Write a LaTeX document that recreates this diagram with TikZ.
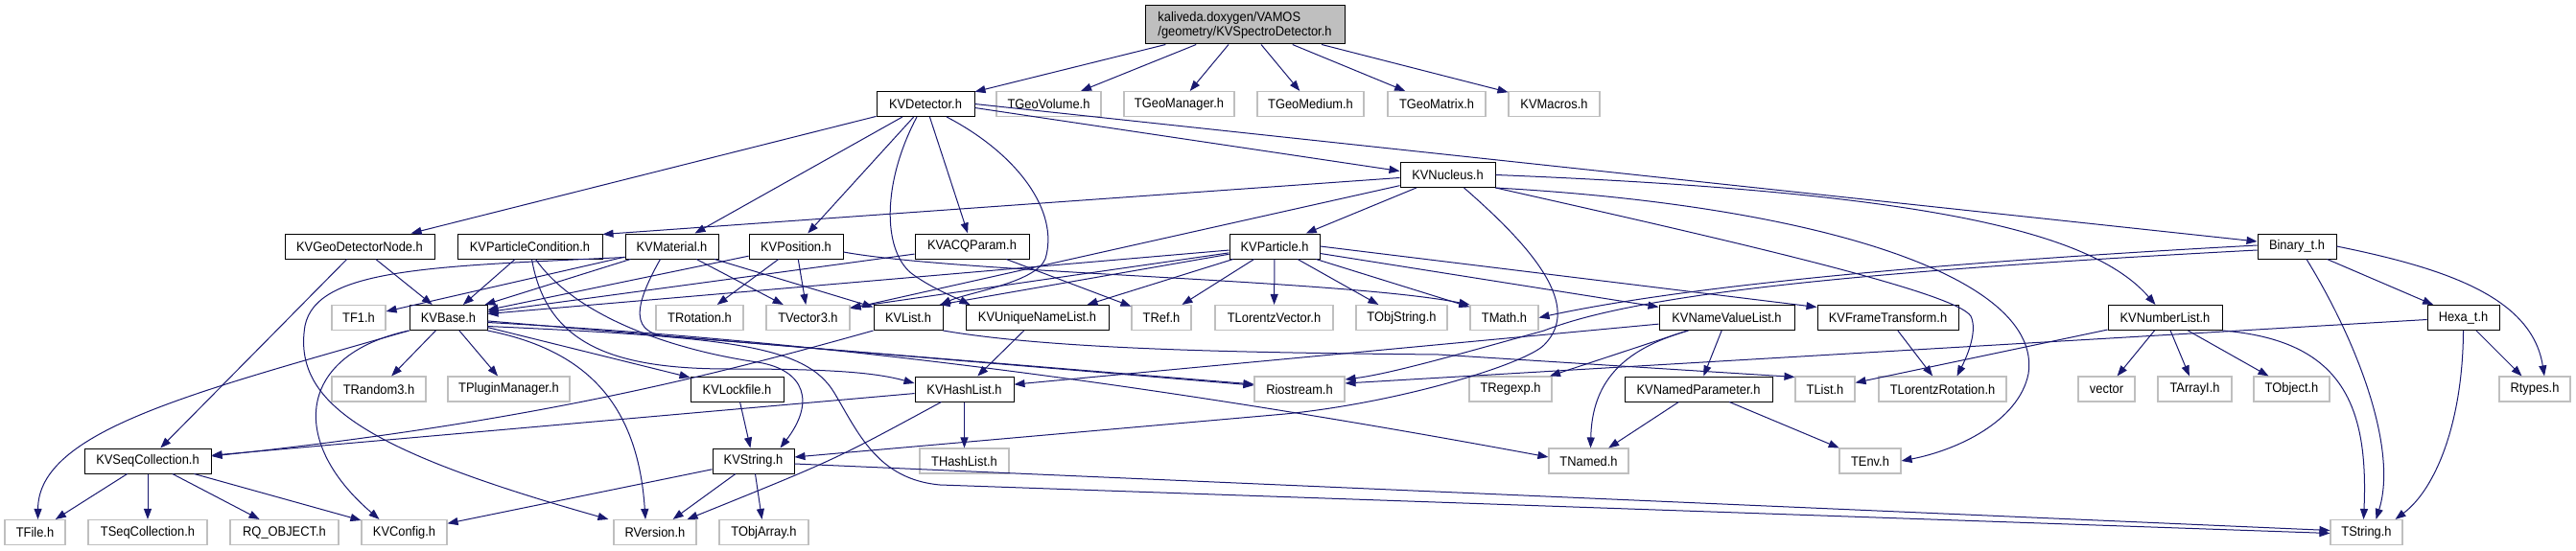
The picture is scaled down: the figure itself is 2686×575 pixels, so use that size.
\documentclass[tikz,border=0pt]{standalone}
\usepackage{fontspec}
\setmainfont{Liberation Sans}[FakeStretch=0.92]
\usetikzlibrary{arrows.meta,calc}
\definecolor{edgeblue}{RGB}{25,25,112}
\definecolor{greyseventyfive}{RGB}{191,191,191}
\begin{document}
\begin{tikzpicture}[x=1pt,y=-1pt,
  font=\fontsize{14}{15}\selectfont,
  kv/.style={draw=black,line width=1pt,rectangle,minimum height=26pt,inner sep=0pt,fill=white,text=black},
  ext/.style={draw=greyseventyfive,line width=1.1pt,rectangle,minimum height=26pt,inner sep=0pt,fill=white,text=black},
  rootbox/.style={draw=black,line width=1pt,rectangle,minimum height=40pt,inner sep=0pt,fill=greyseventyfive,text=black,align=left},
  e/.style={draw=edgeblue,line width=1pt,-{Triangle[length=11pt,width=8pt]}}]
\fill[white] (0,0) rectangle (2686,575);
\useasboundingbox (0,0) rectangle (2686,575);
% row 0
\node[rootbox,minimum width=208pt] (root) at (1298,26) {kaliveda.doxygen/VAMOS\\/geometry/KVSpectroDetector.h};
% row 1
\node[kv,minimum width=102pt] (Det) at (965,108.5) {KVDetector.h};
\node[ext,minimum width=109pt] (TGV) at (1093.5,108.5) {TGeoVolume.h};
\node[ext,minimum width=115pt] (TGM) at (1229.5,108.5) {TGeoManager.h};
\node[ext,minimum width=111pt] (TGMed) at (1366.5,108.5) {TGeoMedium.h};
\node[ext,minimum width=102pt] (TGMat) at (1498,108.5) {TGeoMatrix.h};
\node[ext,minimum width=95pt] (KVMac) at (1620.5,108.5) {KVMacros.h};
% row 2
\node[kv,minimum width=99pt] (Nuc) at (1509.5,182.5) {KVNucleus.h};
% row 3
\node[kv,minimum width=156pt] (GeoNode) at (375,257) {KVGeoDetectorNode.h};
\node[kv,minimum width=151pt] (PartCond) at (552.5,257) {KVParticleCondition.h};
\node[kv,minimum width=97pt] (Mat) at (700.5,257) {KVMaterial.h};
\node[kv,minimum width=98pt] (Pos) at (830,257) {KVPosition.h};
\node[kv,minimum width=119pt] (ACQ) at (1013.5,257) {KVACQParam.h};
\node[kv,minimum width=94pt] (Part) at (1329,257) {KVParticle.h};
\node[kv,minimum width=82pt] (Bin) at (2395,257) {Binary\_t.h};
% row 4
\node[ext,minimum width=56pt] (TF1) at (374,331.5) {TF1.h};
\node[kv,minimum width=81pt] (Base) at (467.5,331.5) {KVBase.h};
\node[ext,minimum width=91pt] (TRot) at (729.5,331.5) {TRotation.h};
\node[ext,minimum width=87pt] (TV3) at (842.5,331.5) {TVector3.h};
\node[kv,minimum width=72pt] (List) at (947,331.5) {KVList.h};
\node[kv,minimum width=149pt] (UNL) at (1081.5,331.5) {KVUniqueNameList.h};
\node[ext,minimum width=62pt] (TRef) at (1211,331.5) {TRef.h};
\node[ext,minimum width=123pt] (TLV) at (1328.5,331.5) {TLorentzVector.h};
\node[ext,minimum width=95pt] (TOS) at (1461.5,331.5) {TObjString.h};
\node[ext,minimum width=71pt] (TMath) at (1568.5,331.5) {TMath.h};
\node[kv,minimum width=141pt] (NVL) at (1800.5,331.5) {KVNameValueList.h};
\node[kv,minimum width=147pt] (FT) at (1968.5,331.5) {KVFrameTransform.h};
\node[kv,minimum width=119pt] (NumL) at (2257.5,331.5) {KVNumberList.h};
\node[kv,minimum width=75pt] (Hexa) at (2568.5,331.5) {Hexa\_t.h};
% row 5
\node[ext,minimum width=98pt] (TRnd) at (395,406) {TRandom3.h};
\node[ext,minimum width=127pt] (TPM) at (530.5,406) {TPluginManager.h};
\node[kv,minimum width=97pt] (Lock) at (768.5,406) {KVLockfile.h};
\node[kv,minimum width=103pt] (HashL) at (1005.5,406) {KVHashList.h};
\node[ext,minimum width=94pt] (Rio) at (1355,406) {Riostream.h};
\node[ext,minimum width=86pt] (TRegexp) at (1575,406) {TRegexp.h};
\node[kv,minimum width=154pt] (NamedP) at (1771,406) {KVNamedParameter.h};
\node[ext,minimum width=62pt] (TList) at (1903,406) {TList.h};
\node[ext,minimum width=133pt] (TLR) at (2025.5,406) {TLorentzRotation.h};
\node[ext,minimum width=59pt] (vec) at (2196.5,406) {vector};
\node[ext,minimum width=77pt] (TArrI) at (2288.5,406) {TArrayI.h};
\node[ext,minimum width=79pt] (TObj) at (2389.5,406) {TObject.h};
\node[ext,minimum width=74pt] (Rtypes) at (2643,406) {Rtypes.h};
% row 6
\node[kv,minimum width=132pt] (Seq) at (154,481) {KVSeqCollection.h};
\node[kv,minimum width=85pt] (Str) at (785.5,481) {KVString.h};
\node[ext,minimum width=93pt] (THash) at (1005.5,481) {THashList.h};
\node[ext,minimum width=83pt] (TNamed) at (1656.5,481) {TNamed.h};
\node[ext,minimum width=64pt] (TEnv) at (1950,481) {TEnv.h};
% row 7
\node[ext,minimum width=63pt] (TFile) at (36.5,555.5) {TFile.h};
\node[ext,minimum width=124pt] (TSeq) at (154,555.5) {TSeqCollection.h};
\node[ext,minimum width=113pt] (RQ) at (296.5,555.5) {RQ\_OBJECT.h};
\node[ext,minimum width=89pt] (Cfg) at (421.5,555.5) {KVConfig.h};
\node[ext,minimum width=86pt] (RVer) at (683,555.5) {RVersion.h};
\node[ext,minimum width=93pt] (TObjArr) at (796.5,555.5) {TObjArray.h};
\node[ext,minimum width=75pt] (TStr) at (2467.5,555.5) {TString.h};

% ---- edges ----
% root
\draw[e] (root) -- (Det);
\draw[e] (root) -- (TGV);
\draw[e] (root) -- (TGM);
\draw[e] (root) -- (TGMed);
\draw[e] (root) -- (TGMat);
\draw[e] (root) -- (KVMac);
% KVDetector
\draw[e] (Det) -- (GeoNode);
\draw[e] (Det) -- (Mat);
\draw[e] (Det) -- (Pos);
\draw[e] (Det) -- (ACQ);
\draw[e] ($(Det.south)+(-9,0)$) .. controls (920,190) and (920,260) .. (950,285) .. controls (970,300) and (995,310) .. ($(UNL.north west)+(5,0)$);
\draw[e] ($(Det.south)+(22,0)$) .. controls (1060,160) and (1105,220) .. (1090,270) .. controls (1080,295) and (1010,305) .. ($(List.north east)+(-3,0)$);
\draw[e] ($(Det.east)+(0,4)$) -- ($(Nuc.west)+(0,-4)$);
\draw[e] (Det.east) -- ($(Bin.west)+(0,-5)$);
% KVNucleus
\draw[e] ($(Nuc.west)+(0,3)$) -- ($(PartCond.north east)+(0,1)$);
\draw[e] (Nuc) -- ($(TV3.north east)+(0,4)$);
\draw[e] (Nuc) -- (Part);
\draw[e] ($(Nuc.south)+(17,0)$) .. controls (1600,260) and (1650,320) .. (1610,360) .. controls (1590,380) and (1460,420) .. (1340,432) -- ($(Str.east)+(0,-4)$);
\draw[e] (Nuc.east) .. controls (2000,200) and (2180,240) .. ($(NumL.north)+(-10,0)$);
\draw[e] (Nuc.south east) .. controls (1900,215) and (2130,290) .. (2115,390) .. controls (2105,440) and (2040,470) .. (TEnv.east);
\draw[e] (Nuc.south east) .. controls (1800,250) and (2040,305) .. (2055,330) .. controls (2062,345) and (2052,370) .. ($(TLR.north)+(15,0)$);
% KVGeoDetectorNode
\draw[e] (GeoNode) -- (Base);
\draw[e] (GeoNode) -- (Seq);
% KVParticleCondition
\draw[e] (PartCond) -- (Base);
\draw[e] ($(PartCond.south)+(6,0)$) .. controls (600,330) and (700,365) .. (790,378) .. controls (840,386) and (850,420) .. ($(Str.north east)+(-15,0)$);
\draw[e] ($(PartCond.south)+(2,0)$) .. controls (570,360) and (640,385) .. (760,385) .. controls (860,385) and (910,388) .. ($(HashL.west)+(0,-6)$);
% KVMaterial
\draw[e] (Mat) -- (TF1);
\draw[e] (Mat) -- ($(Base.north east)+(-3,0)$);
\draw[e] (Mat) -- (TV3);
\draw[e] (Mat) -- (List);
\draw[e] ($(Mat.south west)+(0,-2)$) .. controls (450,278) and (330,280) .. (318,340) .. controls (305,420) and (380,470) .. ($(RVer.north west)+(-5,0)$);
\draw[e] ($(Mat.south)+(-12,0)$) .. controls (655,330) and (660,352) .. (710,352) -- ($(Rio.west)+(0,-5)$);
% KVPosition
\draw[e] (Pos) -- ($(Base.east)+(0,-8)$);
\draw[e] (Pos) -- (TRot);
\draw[e] (Pos) -- (TV3);
\draw[e] ($(Pos.east)+(0,6)$) .. controls (1000,285) and (1400,292) .. (TMath.north west);
% KVACQParam
\draw[e] (ACQ) -- ($(Base.east)+(0,-6)$);
\draw[e] (ACQ) -- (TRef);
% KVParticle
\draw[e] (Part) -- ($(Base.east)+(0,-4)$);
\draw[e] (Part) -- ($(TV3.north east)+(0,3)$);
\draw[e] (Part) -- ($(List.north east)+(-4,0)$);
\draw[e] (Part) -- ($(UNL.north east)+(-23,0)$);
\draw[e] (Part) -- (TRef);
\draw[e] (Part) -- (TLV);
\draw[e] (Part) -- (TOS);
\draw[e] (Part) -- (TMath);
\draw[e] (Part) -- (NVL);
\draw[e] (Part.east) -- ($(FT.west)+(0,-11)$);
% Binary_t
\draw[e] (Bin) -- (Hexa);
\draw[e] (Bin.east) .. controls (2550,280) and (2640,310) .. ($(Rtypes.north)+(10,0)$);
\draw[e] ($(Bin.south)+(10,0)$) .. controls (2460,360) and (2500,470) .. ($(TStr.north)+(10,0)$);
\draw[e] ($(Bin.west)+(0,-1)$) .. controls (2000,275) and (1750,300) .. (TMath.east);
\draw[e] ($(Bin.west)+(0,4)$) .. controls (1900,285) and (1700,310) .. (1610,345) .. controls (1520,370) and (1450,390) .. ($(Rio.east)+(0,-10)$);
% Hexa_t
\draw[e] ($(Hexa.west)+(0,2)$) -- ($(Rio.east)+(0,-6)$);
\draw[e] (Hexa) -- (Rtypes);
\draw[e] (Hexa.south) .. controls (2568,440) and (2540,510) .. ($(TStr.north east)+(-8,0)$);
% KVNumberList
\draw[e] (NumL) -- (TList);
\draw[e] (NumL) -- (vec);
\draw[e] (NumL) -- (TArrI);
\draw[e] (NumL) -- (TObj);
\draw[e] (NumL.south east) .. controls (2440,355) and (2470,420) .. ($(TStr.north)+(-3,0)$);
% KVNameValueList
\draw[e] (NVL) -- (HashL);
\draw[e] (NVL) -- (TRegexp);
\draw[e] (NVL) -- (NamedP);
\draw[e] ($(NVL.south)+(-40,0)$) .. controls (1690,365) and (1660,400) .. ($(TNamed.north)+(2,0)$);
% KVNamedParameter
\draw[e] (NamedP) -- (TNamed);
\draw[e] (NamedP) -- (TEnv);
% KVFrameTransform
\draw[e] (FT) -- (TLR);
% KVList
\draw[e] (List.south west) .. controls (750,390) and (560,440) .. ($(Seq.east)+(0,-5)$);
\draw[e] (List.south east) .. controls (1100,365) and (1300,368) .. (1500,370) -- ($(TList.north west)+(0,1)$);
% KVUniqueNameList
\draw[e] (UNL) -- (HashL);
% KVHashList
\draw[e] (HashL) -- (Seq);
\draw[e] (HashL) -- (THash);
\draw[e] ($(HashL.south)+(-24,0)$) .. controls (870,480) .. ($(RVer.north east)+(-10,0)$);
% KVLockfile
\draw[e] (Lock) -- (Str);
% KVString
\draw[e] (Str) -- (Cfg);
\draw[e] (Str) -- (RVer);
\draw[e] (Str) -- (TObjArr);
\draw[e] ($(Str.east)+(0,3)$) -- ($(TStr.west)+(0,-2)$);
% KVSeqCollection
\draw[e] (Seq) -- (TFile);
\draw[e] (Seq) -- (TSeq);
\draw[e] (Seq) -- (RQ);
\draw[e] (Seq) -- (Cfg);
% KVBase
\draw[e] (Base) -- (TRnd);
\draw[e] (Base) -- (TPM);
\draw[e] (Base.south west) .. controls (200,410) and (40,450) .. ($(TFile.north)+(3,0)$);
\draw[e] (Base.south west) .. controls (310,370) and (300,460) .. ($(Cfg.north)+(-26,0)$);
\draw[e] (Base.south east) .. controls (610,365) and (665,420) .. ($(RVer.north)+(-10,0)$);
\draw[e] (Base) -- (Lock);
\draw[e] (Base) -- (Rio);
\draw[e] ($(Base.east)+(0,5)$) .. controls (850,355) and (1200,400) .. ($(TNamed.west)+(0,-4)$);
\draw[e] ($(Base.east)+(0,9)$) .. controls (760,352) and (840,360) .. (870,410) .. controls (895,452) and (915,500) .. (980,506) -- ($(TStr.west)+(0,1)$);
\end{tikzpicture}
\end{document}
